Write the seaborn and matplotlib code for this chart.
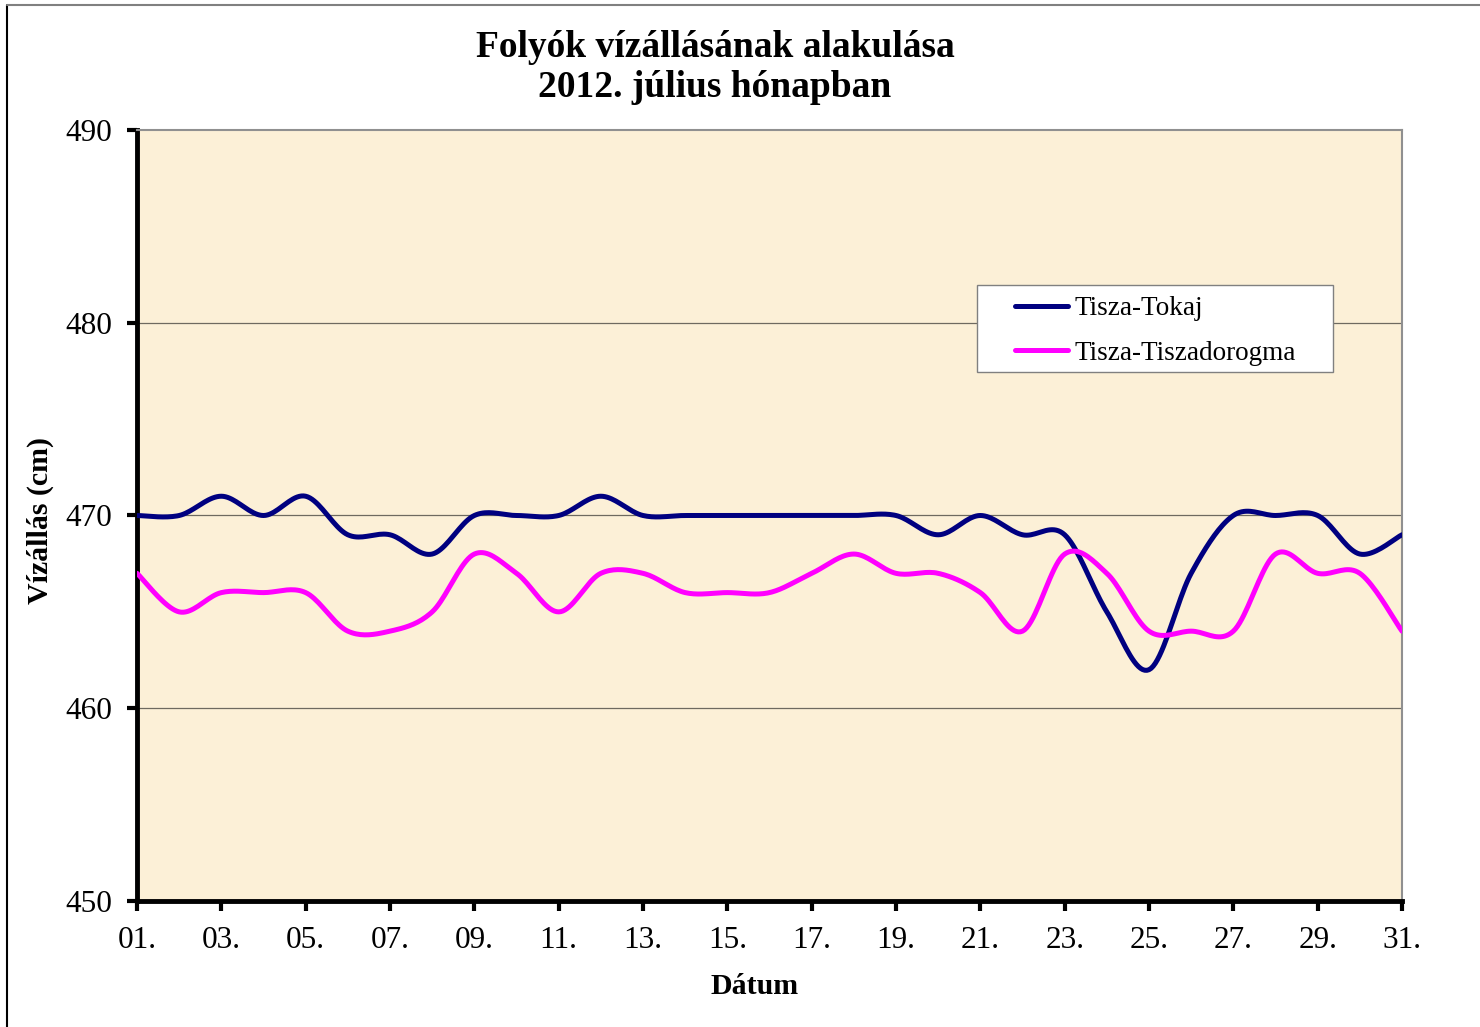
import numpy as np
import pandas as pd
import matplotlib
matplotlib.use("Agg")
import matplotlib.pyplot as plt
import seaborn as sns
from matplotlib.lines import Line2D
from matplotlib.patches import Rectangle

# daily water levels (cm), July 2012
days = list(range(1, 32))
tokaj = [470, 470, 471, 470, 471, 469, 469, 468, 470, 470,
         470, 471, 470, 470, 470, 470, 470, 470, 470, 469,
         470, 469, 469, 465, 462, 467, 470, 470, 470, 468, 469]
tiszadorogma = [467, 465, 466, 466, 466, 464, 464, 465, 468, 467,
                465, 467, 467, 466, 466, 466, 467, 468, 467, 467,
                466, 464, 468, 467, 464, 464, 464, 468, 467, 467, 464]
series_names = ["Tisza-Tokaj", "Tisza-Tiszadorogma"]
colors = {"Tisza-Tokaj": "#000080", "Tisza-Tiszadorogma": "#FF00FF"}
xtick_days = list(range(1, 32, 2))
xtick_labels = [f"{d:02d}." for d in xtick_days]
yticks = [450, 460, 470, 480, 490]

W, H = 1480, 1027  # figure size in pixels


def smooth(x, y, n=20):
    """Excel-like smoothed line (bezier through every point)"""
    x = np.asarray(x, float)
    y = np.asarray(y, float)
    px = np.concatenate([[x[0]], x, [x[-1]]])
    py = np.concatenate([[y[0]], y, [y[-1]]])
    xs, ys = [], []
    t = np.linspace(0, 1, n, endpoint=False)
    for i in range(1, len(px) - 2):
        p0, p1, p2, p3 = (np.array([px[j], py[j]]) for j in range(i - 1, i + 3))
        c1 = p1 + (p2 - p0) / 6
        c2 = p2 - (p3 - p1) / 6
        pts = ((1 - t) ** 3)[:, None] * p1 + (3 * (1 - t) ** 2 * t)[:, None] * c1 \
            + (3 * (1 - t) * t ** 2)[:, None] * c2 + (t ** 3)[:, None] * p2
        xs.extend(pts[:, 0])
        ys.extend(pts[:, 1])
    xs.append(x[-1])
    ys.append(y[-1])
    return xs, ys


frames = []
for name, vals in zip(series_names, [tokaj, tiszadorogma]):
    sx, sy = smooth(days, vals)
    frames.append(pd.DataFrame({"day": sx, "level": sy, "series": name}))
df = pd.concat(frames, ignore_index=True)

sns.set_style("white")
plt.rcParams["font.family"] = ["Liberation Serif", "DejaVu Serif"]
plt.rcParams["text.color"] = "black"
plt.rcParams["axes.labelcolor"] = "black"
plt.rcParams["xtick.color"] = "black"
plt.rcParams["ytick.color"] = "black"

fig = plt.figure(figsize=(W / 100, H / 100), dpi=100)
ax = fig.add_axes([137 / W, 1 - 901 / H, 1265 / W, 771 / H])
ax.set_facecolor("#FCF0D7")

for y in [460, 470, 480]:
    ax.axhline(y, color="#6e6a60", lw=0.9, zorder=1)

sns.lineplot(data=df, x="day", y="level", hue="series", palette=colors,
             sort=False, estimator=None, linewidth=3.6,
             legend=False, ax=ax, zorder=3)
for l in ax.get_lines():
    l.set_solid_capstyle("round")
    l.set_solid_joinstyle("round")

ax.set_xlim(1, 31)
ax.set_ylim(450, 490)
ax.set_xticks(xtick_days)
ax.set_xticklabels(xtick_labels)
ax.set_yticks(yticks)
ax.tick_params(axis="both", direction="out", length=7, width=3,
               labelsize=22.5, left=True, bottom=True)
ax.tick_params(axis="x", pad=11)
ax.tick_params(axis="y", pad=11)
for s in ["left", "bottom"]:
    ax.spines[s].set_color("black")
    ax.spines[s].set_linewidth(3.5)
for s in ["top", "right"]:
    ax.spines[s].set_color("#909090")
    ax.spines[s].set_linewidth(1.5)

ax.set_xlabel("Dátum", fontsize=21.5, fontweight="bold")
ax.xaxis.set_label_coords((755 - 137) / 1265, -(987 - 901) / 771)
ax.xaxis.label.set_va("center")
ax.set_ylabel("Vízállás (cm)", fontsize=21.5, fontweight="bold")
ax.yaxis.set_label_coords(-(137 - 40) / 1265, (901 - 520) / 771)
ax.yaxis.label.set_va("center")

# legend box
ax.add_patch(Rectangle((977 / W, 1 - 372 / H), 356 / W, 87 / H,
                       transform=fig.transFigure, facecolor="white",
                       edgecolor="#808080", lw=1.0, zorder=4, clip_on=False))
handles = [Line2D([], [], color=colors[n], lw=3.6, solid_capstyle="round")
           for n in series_names]
leg = ax.legend(handles, series_names, loc="upper left",
                bbox_to_anchor=((1015 - 137) / 1265, (901 - 296) / 771),
                fontsize=19.5, frameon=False, handlelength=1.95,
                handletextpad=0.25, borderpad=0, labelspacing=0.72,
                borderaxespad=0)
leg.set_zorder(5)

fig.text(715 / W, 1 - 30 / H, "Folyók vízállásának alakulása\n2012. július hónapban",
         ha="center", va="top", fontsize=27, fontweight="bold", linespacing=1.18)

# chart area border (left and top edges)
fig.add_artist(Line2D([7 / W, 7 / W], [0, 1 - 5 / H], color="black", lw=1.5))
fig.add_artist(Line2D([7 / W, 1], [1 - 5 / H, 1 - 5 / H], color="#808080", lw=1.5))

fig.savefig("out.png", dpi=100, facecolor="white")
